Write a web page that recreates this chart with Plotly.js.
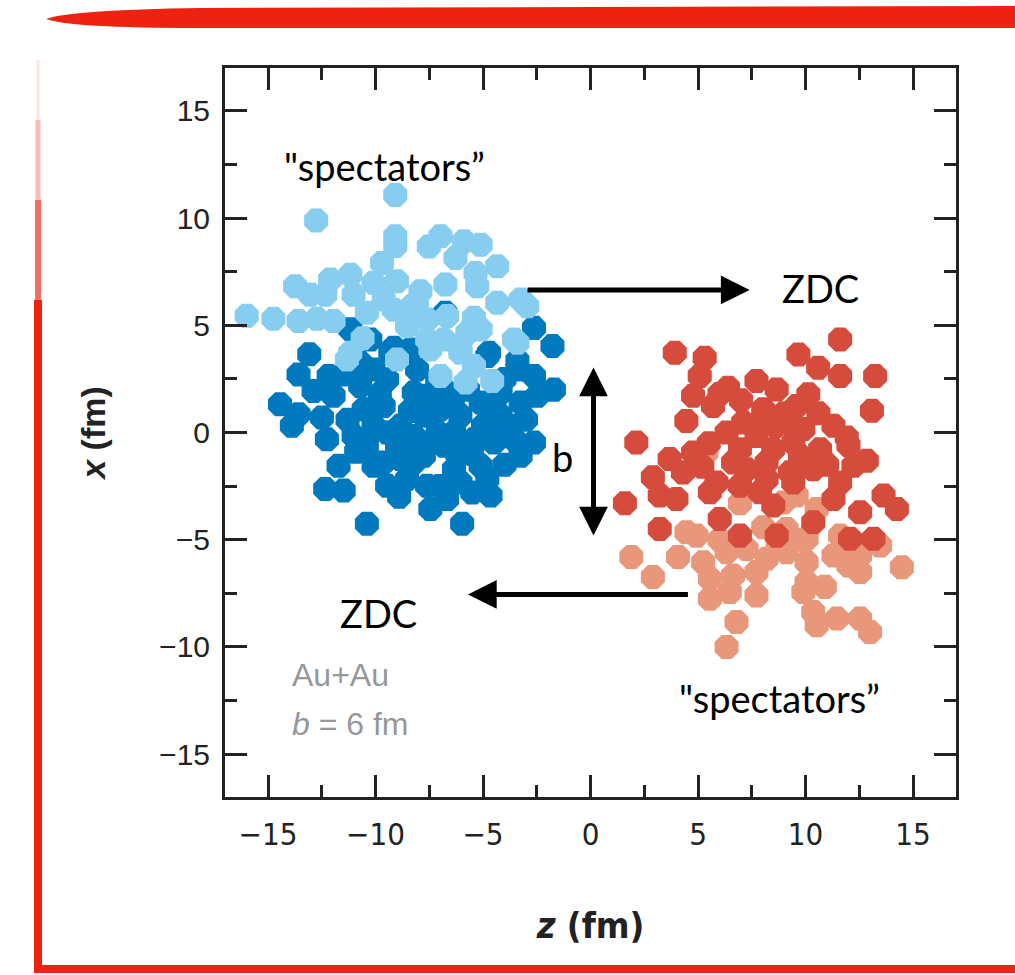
<!DOCTYPE html>
<html>
<head>
<meta charset="utf-8">
<script src="https://cdn.plot.ly/plotly-3.0.1.min.js"></script>
<style>html,body{margin:0;padding:0;background:#fff;}#chart{width:1015px;height:975px;}</style>
</head>
<body>
<div id="chart"></div>
<script>
// Nucleon positions (z, x) in fm
const lightBlueZ = [-9.08,-12.76,-9.08,-9.08,-6.98,-7.52,-5.89,-5.11,-6.28,-4.34,-9.70,-5.35,-11.17,-12.11,-13.74,-13.04,-12.34,-10.09,-9.00,-7.91,-6.75,-5.27,-11.02,-9.62,-8.07,-4.34,-3.25,-2.94,-15.99,-14.75,-13.58,-12.73,-11.95,-10.40,-9.15,-8.53,-7.60,-6.67,-5.42,-5.73,-3.40,-6.82,-11.17,-11.33,-9.00,-7.45,-6.05,-5.42,-6.98,-5.81,-4.57,-3.56,-7.60,-6.05,-5.11,-8.3,-10.6];
const lightBlueX = [11.08,9.89,9.15,8.70,9.15,8.68,8.92,8.76,8.14,7.75,7.91,7.44,7.36,7.13,6.82,6.43,6.43,6.98,7.05,6.59,6.90,6.82,6.43,6.20,6.05,6.05,6.20,5.89,5.45,5.30,5.20,5.30,5.20,5.58,5.73,4.96,5.27,5.43,5.35,4.65,4.19,4.34,3.72,3.41,3.41,3.87,3.72,3.10,2.64,2.33,2.40,4.34,4.34,3.87,4.81,5.9,4.4];

const darkBlueZ = [-6.75,-11.17,-10.24,-9.15,-8.38,-2.63,-1.77,-4.72,-13.08,-3.40,-13.58,-12.18,-12.88,-11.95,-14.44,-13.58,-12.49,-13.89,-12.26,-11.02,-10.55,-10.71,-10.09,-9.31,-9.46,-8.22,-9.62,-8.84,-10.09,-10.40,-7.75,-6.98,-7.13,-4.80,-3.40,-2.63,-2.47,-3.25,-4.18,-5.11,-6.05,-6.35,-5.42,-4.49,-3.40,-2.63,-3.25,-7.29,-8.22,-9.46,-9.62,-8.84,-7.75,-6.82,-6.35,-5.11,-4.80,-4.65,-6.67,-7.45,-7.60,-8.53,-9.46,-10.09,-11.72,-12.34,-11.48,-10.40,-5.97,-7.60,-6.67,-4.18,-3.72,-8.22,-6.05,-8.07,-10.71,
  -10.9,-9.0,-8.0,-6.2,-5.5,-4.0,-3.9,-5.0,-5.7,-4.6,-8.9,-7.0,-5.5,-11.3,-11.5,-9.8,-7.1,-8.4,-6.4,-4.0,-3.0,-1.7];
const darkBlueX = [5.58,4.81,4.34,3.95,3.87,4.88,4.03,3.72,3.65,3.35,2.71,2.64,1.94,1.71,1.32,0.85,0.70,0.31,-0.31,-0.16,1.08,2.17,2.94,3.72,2.48,1.86,1.24,0.31,0.31,-0.62,0.78,1.08,2.48,3.57,2.94,2.64,1.71,1.40,0.78,1.40,0.78,0.00,-0.31,-0.47,-0.47,-0.47,-1.08,-0.31,-0.16,0.00,-1.40,-1.24,-1.08,-0.62,-1.71,-1.55,-2.17,-2.94,-3.10,-3.57,-2.48,-2.17,-2.48,-1.55,-1.55,-2.64,-2.71,-4.26,-4.26,1.71,1.86,1.86,0.31,-1.40,-2.33,2.94,3.26,
  -0.9,-0.6,-0.6,-1.0,-1.0,-1.5,0.0,0.3,2.0,1.0,-3.0,-2.5,-2.8,0.6,2.7,1.8,0.0,1.0,1.5,2.5,0.6,2.0];

const redZ = [3.92,5.31,9.67,11.61,10.59,11.61,13.24,13.09,5.08,4.77,6.40,7.72,8.66,10.13,5.70,8.03,9.59,4.46,7.10,9.12,9.90,11.30,11.92,6.33,7.72,2.13,3.68,4.77,6.95,8.50,9.43,10.68,12.85,12.23,2.90,4.30,5.86,7.26,8.19,9.28,10.36,11.61,13.63,1.60,4.00,5.55,11.30,3.22,3.22,6.01,6.95,7.88,8.50,8.66,10.36,12.54,14.25,12.07,13.16,9.43,6.95,8.19,9.74,6.63,
  6.0,7.0,8.6,10.6,11.0,5.5,5.2,9.0,12.0,7.9];
const redX = [3.72,3.49,3.64,4.34,3.02,2.64,2.64,1.01,2.64,1.71,2.09,2.40,2.01,1.78,1.24,1.08,1.24,0.54,0.47,0.47,0.16,0.31,-0.23,0.00,-0.16,-0.47,-1.24,-0.93,-0.78,-0.78,-0.47,-0.78,-1.32,-1.55,-2.09,-1.86,-2.33,-1.71,-2.17,-1.86,-1.71,-2.33,-2.94,-3.30,-3.10,-2.79,-3.10,-2.94,-4.50,-4.03,-4.81,-2.79,-3.41,-4.81,-4.19,-3.72,-3.57,-4.96,-4.96,-2.33,-2.48,-1.40,-1.08,-1.40,
  1.8,1.5,0.3,0.9,-1.5,-0.5,-1.6,0.9,-0.6,0.5];

const salmonZ = [5.39,9.59,6.95,8.03,10.52,4.93,1.90,4.07,2.90,5.24,6.33,7.26,8.19,9.12,10.05,11.30,12.54,13.47,14.48,9.12,10.05,11.61,12.54,5.55,6.63,7.72,10.05,5.55,6.48,7.72,9.90,10.36,11.46,10.52,12.54,13.00,6.79,6.33,8.97,4.46,
  11.9,9.6,6.0,12.0,10.9,8.7];
const salmonX = [-0.93,-2.94,-3.30,-4.42,-3.57,-4.81,-5.81,-5.81,-6.74,-6.05,-5.58,-5.43,-5.89,-5.58,-6.05,-5.74,-6.51,-5.27,-6.28,-4.50,-4.96,-4.81,-5.74,-6.82,-6.67,-6.51,-6.98,-7.75,-7.44,-7.60,-7.44,-8.37,-8.68,-8.99,-8.68,-9.30,-8.84,-10.00,-3.26,-4.65,
  -5.2,-5.0,-5.0,-6.2,-7.2,-5.2];

const tickValues = [-15,-10,-5,0,5,10,15];
const minorTickValues = [-12.5,-7.5,-2.5,2.5,7.5,12.5];
const axisRange = [-17,17];

const colDark = '#0079BE', colLight = '#86CDEF', colRed = '#D64C3C', colSalmon = '#E9977B';
const mk = (c) => ({symbol:'octagon', size:26, color:c, line:{width:0}});

const traces = [
  {type:'scatter', mode:'markers', x:darkBlueZ, y:darkBlueX, marker:mk(colDark), hoverinfo:'skip'},
  {type:'scatter', mode:'markers', x:lightBlueZ, y:lightBlueX, marker:mk(colLight), hoverinfo:'skip'},
  {type:'scatter', mode:'markers', x:salmonZ, y:salmonX, marker:mk(colSalmon), hoverinfo:'skip'},
  {type:'scatter', mode:'markers', x:redZ, y:redX, marker:mk(colRed), hoverinfo:'skip'}
];

// page-pixel -> paper helpers for the decorative red frame
const L=225, R=59, T=68, B=178, W=1015, H=975;
const pw = W-L-R, ph = H-T-B;
const fx = p => (p-L)/pw, fy = p => (H-B-p)/ph;
const red = '#EE2211';
const topBar = 'M '+fx(46)+','+fy(19)+' Q '+fx(70)+','+fy(10)+' '+fx(200)+','+fy(8)+' L '+fx(1016)+','+fy(6)+' L '+fx(1016)+','+fy(28)+' L '+fx(200)+','+fy(28)+' Q '+fx(70)+','+fy(28)+' '+fx(46)+','+fy(19)+' Z';

const shapes = [
  {type:'path', xref:'paper', yref:'paper', path:topBar, fillcolor:red, line:{width:0}, layer:'above'},
  {type:'line', xref:'paper', yref:'paper', x0:fx(38), x1:fx(38), y0:fy(60), y1:fy(120), line:{color:red, width:3}, opacity:0.12},
  {type:'line', xref:'paper', yref:'paper', x0:fx(38), x1:fx(38), y0:fy(120), y1:fy(200), line:{color:red, width:5}, opacity:0.3},
  {type:'line', xref:'paper', yref:'paper', x0:fx(38), x1:fx(38), y0:fy(200), y1:fy(300), line:{color:red, width:6}, opacity:0.65},
  {type:'line', xref:'paper', yref:'paper', x0:fx(38), x1:fx(38), y0:fy(300), y1:fy(972), line:{color:red, width:8}},
  {type:'line', xref:'paper', yref:'paper', x0:fx(34), x1:fx(1016), y0:fy(969), y1:fy(969), line:{color:red, width:8}}
];

const txt = {family:'Lato, Carlito, "Noto Sans", sans-serif', size:38, color:'#000'};
const grey = {family:'"Liberation Sans", Arial, sans-serif', size:32, color:'#979797'};
const annotations = [
  {x:-9.6, y:12.45, xref:'x', yref:'y', text:'"spectators”', showarrow:false, font:txt},
  {x:10.7, y:6.75, xref:'x', yref:'y', text:'ZDC', showarrow:false, font:txt},
  {x:-9.85, y:-8.4, xref:'x', yref:'y', text:'ZDC', showarrow:false, font:txt},
  {x:8.8, y:-12.4, xref:'x', yref:'y', text:'"spectators”', showarrow:false, font:txt},
  {x:-1.3, y:-1.15, xref:'x', yref:'y', text:'b', showarrow:false, font:txt},
  {x:-14.0, y:-11.3, xref:'x', yref:'y', xanchor:'left', text:'Au+Au', showarrow:false, font:grey},
  {x:-14.0, y:-13.6, xref:'x', yref:'y', xanchor:'left', text:'<i>b</i> = 6 fm', showarrow:false, font:grey},
  // arrows
  {x:7.4, y:6.65, ax:-3.0, ay:6.65, xref:'x', yref:'y', axref:'x', ayref:'y', text:'', showarrow:true, arrowhead:2, arrowsize:1.15, arrowwidth:5, arrowcolor:'#000'},
  {x:-5.7, y:-7.55, ax:4.6, ay:-7.55, xref:'x', yref:'y', axref:'x', ayref:'y', text:'', showarrow:true, arrowhead:2, arrowsize:1.15, arrowwidth:5, arrowcolor:'#000'},
  {x:0.14, y:-4.8, ax:0.14, ay:3.1, xref:'x', yref:'y', axref:'x', ayref:'y', text:'', showarrow:true, arrowside:'end+start', arrowhead:2, startarrowhead:2, arrowsize:1.15, startarrowsize:1.15, arrowwidth:5, arrowcolor:'#000'}
];

const axisCommon = {
  range: axisRange, tickmode:'array', tickvals: tickValues,
  ticks:'inside', ticklen:22, tickwidth:3, tickcolor:'#222',
  showline:true, linewidth:3, linecolor:'#222', mirror:'ticks',
  showgrid:false, zeroline:false, fixedrange:true,
  minor:{tickmode:'array', tickvals:minorTickValues, ticks:'inside', ticklen:12, tickwidth:3, tickcolor:'#222', showgrid:false}
};

const condensed = '"DejaVu Sans Condensed", "Liberation Sans Narrow", "Liberation Sans", sans-serif';
const layout = {
  width:W, height:H, margin:{l:L, r:R, t:T, b:B},
  paper_bgcolor:'#fff', plot_bgcolor:'#fff', showlegend:false,
  xaxis: Object.assign({}, axisCommon, {
    tickfont:{family:condensed, size:31, color:'#222'},
    ticklabelstandoff:8,
    title:{text:'<b><i>z</i> (fm)</b>', standoff:62, font:{family:condensed, size:36, color:'#222'}}
  }),
  yaxis: Object.assign({}, axisCommon, {
    tickfont:{family:'"Liberation Sans", Arial, sans-serif', size:30, color:'#222'},
    ticklabelstandoff:6,
    title:{text:'<b><i>x</i> (fm)</b>', standoff:44, font:{family:'"Liberation Sans", Arial, sans-serif', size:34, color:'#222'}}
  }),
  shapes: shapes, annotations: annotations
};

Plotly.newPlot('chart', traces, layout, {staticPlot:true, displayModeBar:false});
</script>
</body>
</html>
